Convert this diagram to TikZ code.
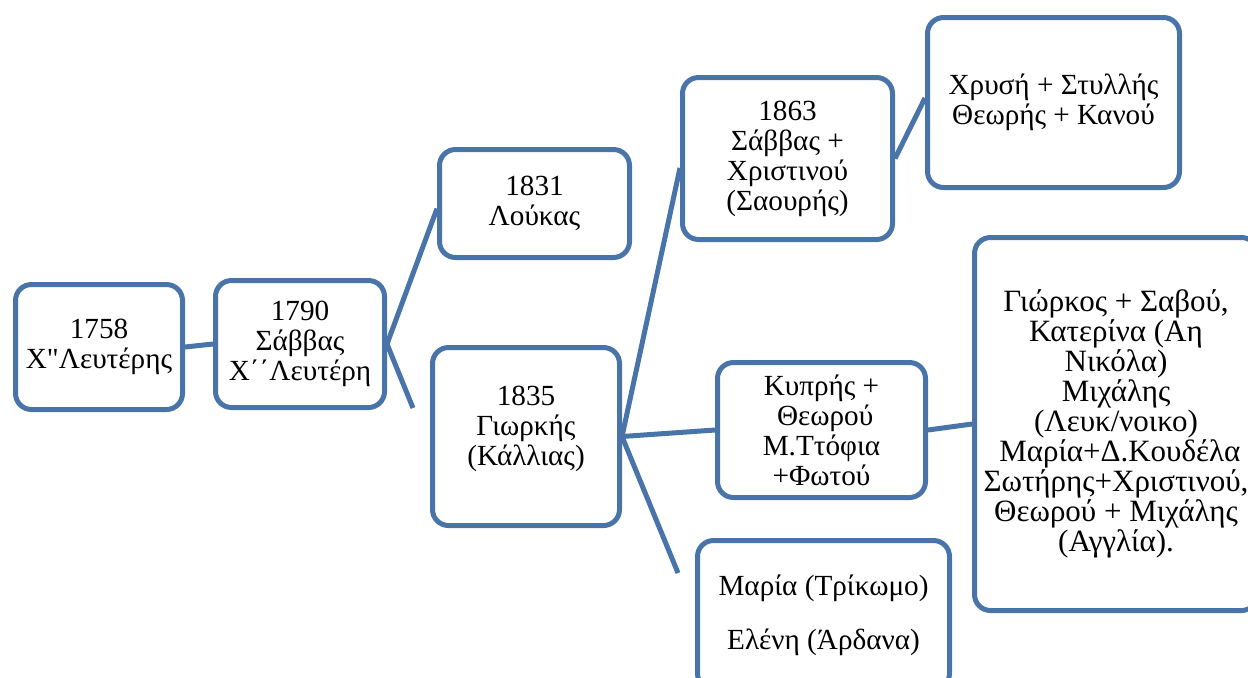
\documentclass[tikz,border=0pt]{standalone}
\usepackage{fontspec}
\setmainfont{Liberation Serif}[Ligatures=TeXOff]
\definecolor{famblue}{RGB}{72,116,170}

\begin{document}
\begin{tikzpicture}[x=0.5pt, y=-0.5pt, line width=2.5pt]

        \def\rc{8pt}                % corner radius of the boxes
        \def\fs{14.6}               % font size
        \def\bs{15}                 % line distance
        \tikzstyle{member}=[draw=famblue, rounded corners=\rc, align=center, inner sep=1pt, font={\fontsize{\fs pt}{\bs pt}\selectfont}]
        \tikzstyle{link}=[draw=famblue]
        \tikzset{boxsize/.style 2 args={minimum width=#1*0.5pt, minimum height=#2*0.5pt}}

        \clip (0,0) rectangle (1248,677);

        % Draw the first generations
        \node[member, boxsize={167}{125}] (g1758) at (99,347) {1758\\Χ"Λευτέρης};
        \node[member, boxsize={169}{127}] (g1790) at (300,344) {1790\\Σάββας\\Χ΄΄Λευτέρη};

        % Draw the children of Savvas
        \node[member, boxsize={190}{108}] (g1831) at (534.5,203.5) {1831\\Λούκας};
        \node[member, boxsize={187}{178}] (g1835) at (526,436.5) {1835\\Γιωρκής\\(Κάλλιας)\\[-4pt]\mbox{}};

        % Draw the children of Giorkis
        \node[member, boxsize={210}{162}] (g1863) at (787.5,158.5) {1863\\Σάββας +\\Χριστινού\\(Σαουρής)};
        \node[member, boxsize={208}{135}] (kyp) at (821.5,430) {Κυπρής +\\\ Θεωρού\\Μ.Ττόφια\\+Φωτού};
        \node[member, boxsize={252}{149}] (mar) at (823.5,615) {Μαρία (Τρίκωμο)\\[12pt]Ελένη (Άρδανα)};

        % Draw the grandchildren
        \node[member, boxsize={252}{170}] (xry) at (1053.5,102.5) {Χρυσή + Στυλλής\\Θεωρής + Κανού};
        \node[member, boxsize={283}{373}, font={\fontsize{15.5pt}{15pt}\selectfont}] (gio) at (1116,424) {Γιώρκος + Σαβού,\\Κατερίνα (Αη\\Νικόλα)\\Μιχάλης\\(Λευκ/νοικο)\\\ Μαρία+Δ.Κουδέλα\\Σωτήρης+Χριστινού,\\Θεωρού + Μιχάλης\\(Αγγλία).};

        % Free ends of the connectors
        \coordinate (end1790) at (413,408);
        \coordinate (end1835) at (678,573);

        % Connect the generations
        \draw[link] (g1758.east) -- (g1790.west);
        \draw[link] (g1790.east) -- (g1831.183);
        \draw[link] (g1790.east) -- (end1790);
        \draw[link] (g1835.east) -- (g1863.185);
        \draw[link] (g1835.east) -- (kyp.west);
        \draw[link] (g1835.east) -- (end1835);
        \draw[link] (g1863.east) -- (xry.178);
        \draw[link] (kyp.east) -- (gio.west);

\end{tikzpicture}
\end{document}
